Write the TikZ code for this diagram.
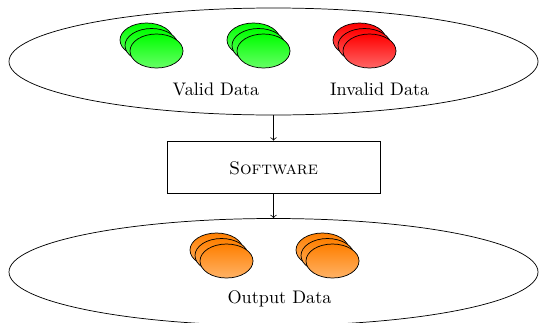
\documentclass[tikz,border=0pt]{standalone}
\usetikzlibrary{shapes.geometric}
\tikzset{
  blob/.style={ellipse, draw, inner sep=0pt, minimum width={53*0.55pt}, minimum height={34*0.55pt}},
  greenblob/.style={blob, top color=green, bottom color=green!60},
  redblob/.style={blob, top color=red, bottom color=red!60},
  orangeblob/.style={blob, top color=orange, bottom color=orange!60},
  bigell/.style={ellipse, draw, inner sep=0pt, minimum width={529*0.55pt}, minimum height={107*0.55pt}},
  swbox/.style={rectangle, draw, inner sep=0pt, minimum width={213*0.55pt}, minimum height={52*0.55pt}},
  lbl/.style={anchor=base, inner sep=0pt}
}
\newcommand{\blobstack}[4]{%
  \node[#4] (#1a) at (#2-10,#3-11) {};
  \node[#4] (#1b) at (#2-5,#3-5.5) {};
  \node[#4] (#1c) at (#2,#3) {};
}
\begin{document}
\begin{tikzpicture}[x=0.55pt,y=-0.55pt]
\useasboundingbox (0,0) rectangle (539,322);
\clip (0,0) rectangle (539,322);
\node[bigell] (inp) at (273.5,61.5) {};
\node[bigell] (outp) at (273.5,272) {};
\node[swbox] (sw) at (273.5,167) {};
\node[lbl] (swl) at (273.5,174) {\textsc{Software}};
\blobstack{va}{156.5}{51}{greenblob}
\blobstack{vb}{263.5}{51}{greenblob}
\blobstack{iv}{369.5}{51}{redblob}
\blobstack{oa}{226.5}{261}{orangeblob}
\blobstack{ob}{332.5}{261}{orangeblob}
\node[lbl] (vl) at (216,95) {Valid Data};
\node[lbl] (il) at (379.7,95) {Invalid Data};
\node[lbl] (ol) at (279.5,303.3) {Output Data};
\draw[->] (inp.south) -- (sw.north);
\draw[->] (sw.south) -- (outp.north);
\end{tikzpicture}
\end{document}
